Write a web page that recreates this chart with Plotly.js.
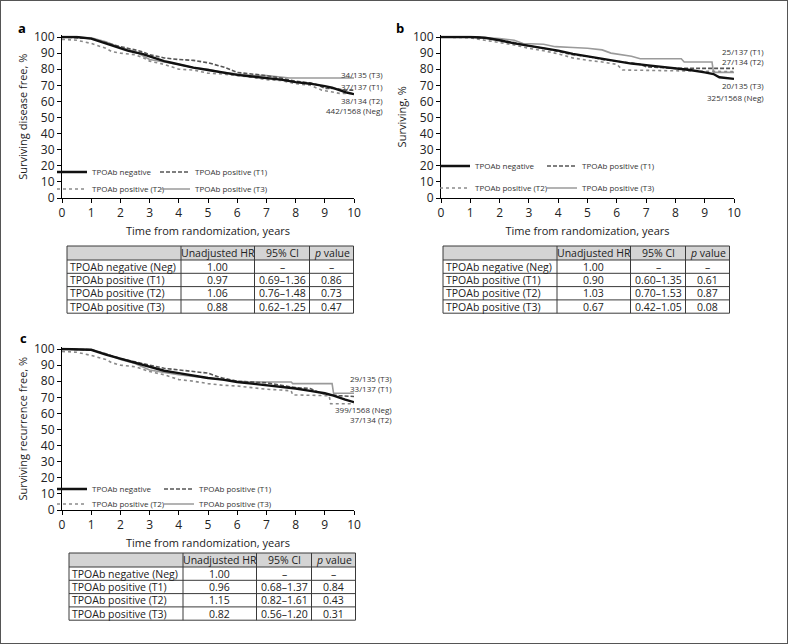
<!DOCTYPE html>
<html><head><meta charset="utf-8">
<script src="https://cdn.plot.ly/plotly-3.0.1.min.js"></script>
<style>html,body{margin:0;padding:0;background:#fff}#chart{width:788px;height:644px}</style>
</head><body><div id="chart"></div><script>
// ---------- DATA ----------
const seriesNames = ['TPOAb negative','TPOAb positive (T1)','TPOAb positive (T2)','TPOAb positive (T3)'];

// Panel a: surviving disease free, %
const aNegT = [0,0.5,1,1.25,1.5,1.75,2,2.25,2.5,2.75,3,3.25,3.5,3.75,4,4.5,5,5.5,6,6.5,7,7.5,8,8.5,9,9.25,9.5,9.75,10];
const aNegS = [100,100,99,97.5,96,94.5,93,91.5,90.5,89.5,88,86.5,85,84,83,81,79.5,78,76.5,75.5,74.5,73.5,72,71,69.5,68.5,67,65.5,64.5];
const aT1T = [0,1,1.5,2,2.5,2.8,3,3.5,4,4.5,5,5.3,5.6,6,6.5,7,7.5,8,8.5,8.8,9,9.4,9.7,10];
const aT1S = [100,99,96.5,94,92,90.5,89,87,86,85.5,84,82.5,81,78,77,76,74.5,72.5,71.5,70,68,68,67,67];
const aT2T = [0,0.5,1,1.5,1.7,2,2.5,2.8,3,3.5,4,4.5,5,5.5,6,6.5,7,7.5,8,8.5,8.9,9.2,9.5,10];
const aT2S = [98.5,98,96,93,91,90,89,87,85,83,80,79.5,77.5,77,76,75,73.5,73,71,70,67,66,65,65];
const aT3T = [0,1,1.5,2,2.5,3,3.5,4,4.5,5,5.5,6,6.5,7,7.8,10];
const aT3S = [100,99.5,97,93.5,91,86,84.5,83,81,80,78,77,76,76,74.5,74.5];

// Panel b: surviving, %
const bNegT = [0,1,1.5,2,2.5,3,3.5,4,4.5,5,5.5,6,6.5,7,7.5,8,8.5,9,9.3,9.5,9.7,10];
const bNegS = [100,100,99.5,98,96,94.5,93,91.5,89.5,88,86.5,85,83.5,82.5,81.5,80.5,79.5,78,77,75,74.5,74];
const bT1T = [0,1,1.5,2,2.5,3,3.5,4,4.5,5,5.5,6,6.8,7,7.5,8,10];
const bT1S = [100,100,99.5,98,96.5,94.5,93,91,89,88,86,85,83,81.5,81,80.5,80.5];
const bT2T = [0,1,1.5,2,2.5,3,3.5,4,4.5,5,5.5,6,6.2,8,9.3,10];
const bT2S = [100,99.5,98,96.5,95,93,91.5,89.5,87,85.5,84.5,83,79.5,79,78.5,78.5];
const bT3T = [0,1.2,1.5,2,2.5,2.8,3.5,3.9,4.5,5,5.5,5.8,6.5,6.8,8.2,8.3,9.25,9.3,10];
const bT3S = [100,100,99.5,99,98,96,95.5,94,93.5,93,92,90,88,86.5,86.5,84.5,84.5,78,78];

// Panel c: surviving recurrence free, %
const cNegT = [0,1,1.5,2,2.5,3,3.5,4,4.5,5,5.5,6,6.5,7,7.5,8,8.5,9,9.3,9.5,9.7,10];
const cNegS = [100,99.5,96.5,94,91.5,89,86.5,85,83.5,82,81,79.5,78.5,77.5,76.5,75.5,74,72.5,71,69.5,68.5,67];
const cT1T = [0,1,1.5,2,2.5,3,3.5,4,4.5,5,5.3,5.5,6,6.5,7,7.5,8,8.5,8.8,9,9.5,10];
const cT1S = [100,99.5,97,94,92,90,88,87,86,85,83,82,80,79.5,79,77.5,76,75.5,73,72,71,70.5];
const cT2T = [0,0.5,1,1.5,1.7,2,2.5,3,3.5,4,4.5,5,5.5,6,6.5,7,7.5,7.85,7.9,9.15,9.2,10];
const cT2S = [98.5,98,96,93.5,91.5,90,89,86,84,81,80,78.5,77.5,77,76,75,74.5,74,71.5,71,66,66];
const cT3T = [0,1,1.5,2,2.5,3,3.5,4,4.5,5,5.5,6,6.5,7.85,7.9,9.25,9.3,10];
const cT3S = [100,99.5,97,93.5,91,87,85.5,84,83,82,81,80,79.5,79.5,78.5,78.5,72.5,72.5];

// End-of-curve labels (events / patients)
const aLabels = ['34/135 (T3)','37/137 (T1)','38/134 (T2)','442/1568 (Neg)'];
const aLabelY = [76.5,69.5,60.5,54.5];
const bLabels = ['25/137 (T1)','27/134 (T2)','20/135 (T3)','325/1568 (Neg)'];
const bLabelY = [91.3,84.5,69.6,62.7];
const cLabels = ['29/135 (T3)','33/137 (T1)','399/1568 (Neg)','37/134 (T2)'];
const cLabelY = [81.4,75.2,62.7,56.5];

// Tables
const tableHeader = ['', 'Unadjusted HR', '95% CI', '<i>p</i> value'];
const rowLabels = ['TPOAb negative (Neg)','TPOAb positive (T1)','TPOAb positive (T2)','TPOAb positive (T3)'];
const aHR = ['1.00','0.97','1.06','0.88'];
const aCI = ['–','0.69–1.36','0.76–1.48','0.62–1.25'];
const aP  = ['–','0.86','0.73','0.47'];
const bHR = ['1.00','0.90','1.03','0.67'];
const bCI = ['–','0.60–1.35','0.70–1.53','0.42–1.05'];
const bP  = ['–','0.61','0.87','0.08'];
const cHR = ['1.00','0.96','1.15','0.82'];
const cCI = ['–','0.68–1.37','0.82–1.61','0.56–1.20'];
const cP  = ['–','0.84','0.43','0.31'];

const yTitles = ['Surviving disease free, %','Surviving, %','Surviving recurrence free, %'];
const xTitle = 'Time from randomization, years';

// ---------- LAYOUT HELPERS ----------
const W = 788, H = 644;
const FONT = 'Open Sans, Noto Sans, sans-serif';
const px = v => v / W;
const py = v => 1 - v / H;

const styles = [
  {color:'#111111', width:2.4, dash:'solid'},
  {color:'#555555', width:1.6, dash:'4px,2px'},
  {color:'#8a8a8a', width:1.6, dash:'dot'},
  {color:'#9a9a9a', width:1.6, dash:'solid'}
];
// Legend layout: Neg,T1 on row 1; T2,T3 on row 2
const legendRow = [0,0,1,1];
const legendRank = [1,2,1,2];

const panels = [
  {xa:'x',  ya:'y',  T:[aNegT,aT1T,aT2T,aT3T], S:[aNegS,aT1S,aT2S,aT3S], leg:['legend','legend2'], colGap:58},
  {xa:'x2', ya:'y2', T:[bNegT,bT1T,bT2T,bT3T], S:[bNegS,bT1S,bT2S,bT3S], leg:['legend3','legend4'], colGap:62},
  {xa:'x3', ya:'y3', T:[cNegT,cT1T,cT2T,cT3T], S:[cNegS,cT1S,cT2S,cT3S], leg:['legend5','legend6'], colGap:62}
];

const traces = [];
const drawOrder = [3,2,1,0];
panels.forEach(p => {
  drawOrder.forEach(i => {
    traces.push({
      type:'scatter', mode:'lines', x:p.T[i], y:p.S[i], name:seriesNames[i],
      xaxis:p.xa, yaxis:p.ya,
      line:{color:styles[i].color, width:styles[i].width, dash:styles[i].dash, shape:'linear'},
      legend:p.leg[legendRow[i]], legendrank:legendRank[i],
      legendwidth: legendRank[i] === 1 ? p.colGap : 95,
      hoverinfo:'skip'
    });
  });
});

function xAxis(d0, d1, anchor) {
  return {domain:[px(d0), px(d1)], range:[0,10], anchor:anchor, tick0:0, dtick:1,
    ticks:'outside', ticklen:4, tickcolor:'#000', showline:true, linecolor:'#000', linewidth:1,
    showgrid:false, zeroline:false, tickfont:{family:FONT, size:12, color:'#222'},
    title:{text:xTitle, font:{family:FONT, size:11, color:'#222'}, standoff:6}, fixedrange:true};
}
function yAxis(top, bottom, anchor, title) {
  const h = (bottom - top) * 1.01; // range top slightly above 100 so the 100% line is not clipped
  return {domain:[py(bottom), py(bottom - h)], range:[0,101], anchor:anchor, tick0:0, dtick:10,
    ticks:'outside', ticklen:4, tickcolor:'#000', showline:true, linecolor:'#000', linewidth:1,
    showgrid:false, zeroline:false, tickfont:{family:FONT, size:12, color:'#222'},
    title:{text:title, font:{family:FONT, size:11, color:'#222'}, standoff:4}, fixedrange:true};
}

const annotations = [];
const shapes = [];

function endLabels(ya, xpix, labels, ys) {
  labels.forEach((t, k) => annotations.push({xref:'paper', yref:ya, x:px(xpix), y:ys[k], text:t, showarrow:false,
    xanchor:'right', yanchor:'middle', font:{family:FONT, size:8, color:'#333'}, borderpad:0}));
}
endLabels('y', 384, aLabels, aLabelY);
endLabels('y2', 765, bLabels, bLabelY);
endLabels('y3', 393, cLabels, cLabelY);

[['a',22,28],['b',400,28],['c',23,338]].forEach(([t,x,y]) => annotations.push({
  xref:'paper', yref:'paper', x:px(x), y:py(y), text:'<b>'+t+'</b>', showarrow:false,
  xanchor:'center', yanchor:'middle', font:{family:FONT, size:13, color:'#000'}}));

// Hazard-ratio tables built from the arrays above
const colW = [114, 73.5, 55, 44];
function buildTable(left, top, cols) {
  const headH = 14, rowH = 13.3;
  const nRows = cols[0].length;
  const right = left + colW.reduce((a, b) => a + b, 0);
  const bottom = top + headH + nRows * rowH;
  const lineStyle = {color:'#3a3a3a', width:1};
  shapes.push({type:'rect', xref:'paper', yref:'paper', x0:px(left), x1:px(right), y0:py(top + headH), y1:py(top),
    fillcolor:'#d4d4d4', line:{width:0}, layer:'below'});
  for (let r = 0; r <= nRows + 1; r++) {
    const y = r === 0 ? top : top + headH + (r - 1) * rowH;
    shapes.push({type:'line', xref:'paper', yref:'paper', x0:px(left), x1:px(right), y0:py(y), y1:py(y), line:lineStyle});
  }
  let xs = [left];
  colW.forEach(w => xs.push(xs[xs.length - 1] + w));
  xs.forEach(x => shapes.push({type:'line', xref:'paper', yref:'paper', x0:px(x), x1:px(x), y0:py(top), y1:py(bottom), line:lineStyle}));
  const tf = {family:FONT, size:10.5, color:'#222'};
  tableHeader.forEach((t, c) => {
    if (!t) return;
    annotations.push({xref:'paper', yref:'paper', x:px((xs[c] + xs[c + 1]) / 2), y:py(top + headH / 2), text:t,
      showarrow:false, xanchor:'center', yanchor:'middle', font:tf, borderpad:0});
  });
  cols.forEach((col, c) => col.forEach((t, r) => {
    const yc = top + headH + (r + 0.5) * rowH;
    annotations.push({xref:'paper', yref:'paper', x: c === 0 ? px(xs[0] + 2) : px((xs[c] + xs[c + 1]) / 2), y:py(yc),
      text:t, showarrow:false, xanchor: c === 0 ? 'left' : 'center', yanchor:'middle', font:tf, borderpad:0});
  }));
}
buildTable(67, 246, [rowLabels, aHR, aCI, aP]);
buildTable(443, 246, [rowLabels, bHR, bCI, bP]);
buildTable(69, 553, [rowLabels, cHR, cCI, cP]);

shapes.push({type:'rect', xref:'paper', yref:'paper', x0:0, x1:1, y0:0, y1:1, line:{color:'#555', width:2}});

function legendAt(left, top) {
  return {x:px(left), y:py(top), xanchor:'left', yanchor:'top', orientation:'h',
    bgcolor:'rgba(0,0,0,0)', borderwidth:0,
    font:{family:FONT, size:8, color:'#333'}, itemclick:false, itemdoubleclick:false};
}

const layout = {
  width:W, height:H, margin:{l:0, r:0, t:0, b:0},
  paper_bgcolor:'#fff', plot_bgcolor:'#fff', font:{family:FONT, color:'#222'},
  showlegend:true,
  xaxis:xAxis(62,354,'y'), yaxis:yAxis(37,198,'x',yTitles[0]),
  xaxis2:xAxis(441,734,'y2'), yaxis2:yAxis(37,198,'x2',yTitles[1]),
  xaxis3:xAxis(62,354,'y3'), yaxis3:yAxis(349,510,'x3',yTitles[2]),
  legend:legendAt(52,157.5), legend2:legendAt(52,174.5),
  legend3:legendAt(435,151.5), legend4:legendAt(435,173.5),
  legend5:legendAt(52,474.5), legend6:legendAt(52,489.5),
  annotations:annotations,
  shapes:shapes
};

Plotly.newPlot('chart', traces, layout, {staticPlot:true, displayModeBar:false});
</script></body></html>
